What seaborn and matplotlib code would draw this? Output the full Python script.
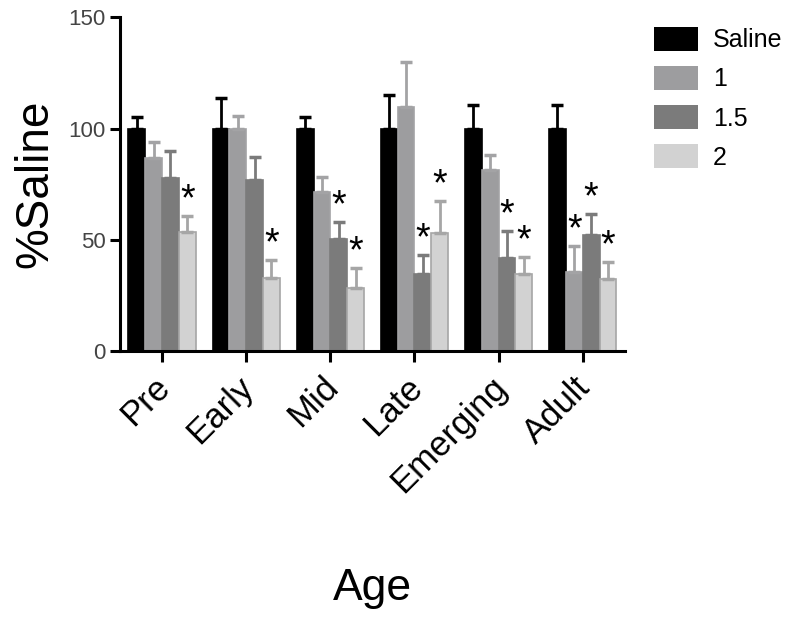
import matplotlib
matplotlib.use("Agg")
import matplotlib.pyplot as plt
import matplotlib.transforms as mtransforms
import numpy as np
import pandas as pd
import seaborn as sns

ages = ["Pre", "Early", "Mid", "Late", "Emerging", "Adult"]
doses = ["Saline", "1", "1.5", "2"]

saline = [100, 100, 100, 100, 100, 100]
dose_1 = [86.7, 100, 71.4, 109.5, 81.3, 35.5]
dose_15 = [77.7, 76.8, 50.3, 34.6, 41.8, 52]
dose_2 = [53.4, 32.8, 28.3, 53, 34.6, 32.3]

err_saline = [5, 13.6, 5, 15, 10.5, 10.5]
err_1 = [7.3, 5.5, 6.6, 20.5, 6.7, 11.5]
err_15 = [12.3, 10.2, 7.7, 8.4, 12.1, 9.5]
err_2 = [7.2, 8.1, 9, 14.4, 7.6, 7.7]

# significance stars (True = star over that bar)
star_saline = [False] * 6
star_1 = [False, False, False, False, False, True]
star_15 = [False, False, True, True, True, True]
star_2 = [True, True, True, True, True, True]

fills = ["#000000", "#9d9d9f", "#7b7b7b", "#d2d2d2"]
edges = ["#000000", "#a3a3a5", "#7b7b7b", "#a6a6a6"]

df = pd.DataFrame({
    "Age": ages * 4,
    "Dose": [d for d in doses for _ in ages],
    "value": saline + dose_1 + dose_15 + dose_2,
})
errs = [err_saline, err_1, err_15, err_2]
stars = [star_saline, star_1, star_15, star_2]

plt.rcParams["font.family"] = ["Liberation Sans", "DejaVu Sans"]

fig = plt.figure(figsize=(8, 6.18), dpi=100)
ax = fig.add_axes([0.15, 0.432, 0.631, 0.54])

sns.barplot(data=df, x="Age", y="value", hue="Dose", order=ages, hue_order=doses,
            palette=fills, errorbar=None, width=0.8, saturation=1, ax=ax)

bar_groups = list(ax.containers)
for i, cont in enumerate(bar_groups):
    xs = [b.get_x() + b.get_width() / 2 for b in cont]
    hs = [b.get_height() for b in cont]
    for b in cont:
        b.set_edgecolor(edges[i])
        b.set_linewidth(1.2)
    ax.errorbar(xs, hs, yerr=[np.zeros(len(hs)), errs[i]], fmt="none",
                ecolor=edges[i], elinewidth=2, capsize=4.5, capthick=2.5, zorder=1)
    for x, h, e, s in zip(xs, hs, errs[i], stars[i]):
        if s:
            ax.text(x, h + e - 1, "*", ha="center", va="bottom", fontsize=27)

ax.set_xlim(-0.5, 5.5)
ax.set_ylim(0, 150)
ax.set_yticks([0, 50, 100, 150])
sns.despine(ax=ax)
for sp in ["left", "bottom"]:
    ax.spines[sp].set_linewidth(2.2)
ax.tick_params(axis="y", length=7, width=2.2, labelsize=16, labelcolor="#444444")
ax.tick_params(axis="x", length=8, width=2.2, labelsize=25, pad=3)
# nudge rotated labels down-left a bit
shift = mtransforms.ScaledTranslation(-0.09, -0.04, fig.dpi_scale_trans)
for lab in ax.get_xticklabels():
    lab.set_rotation(45)
    lab.set_ha("right")
    lab.set_rotation_mode("anchor")
    lab.set_transform(lab.get_transform() + shift)

ax.set_ylabel("%Saline", fontsize=33, labelpad=8)
ax.set_xlabel("Age", fontsize=32, labelpad=50)

ax.legend(loc="upper left", bbox_to_anchor=(0.818, 0.957), bbox_transform=fig.transFigure,
          frameon=False, fontsize=18, handlelength=1.75, handleheight=1.1,
          labelspacing=0.55, handletextpad=0.6, borderpad=0, borderaxespad=0)

fig.savefig("out.png", dpi=100)
